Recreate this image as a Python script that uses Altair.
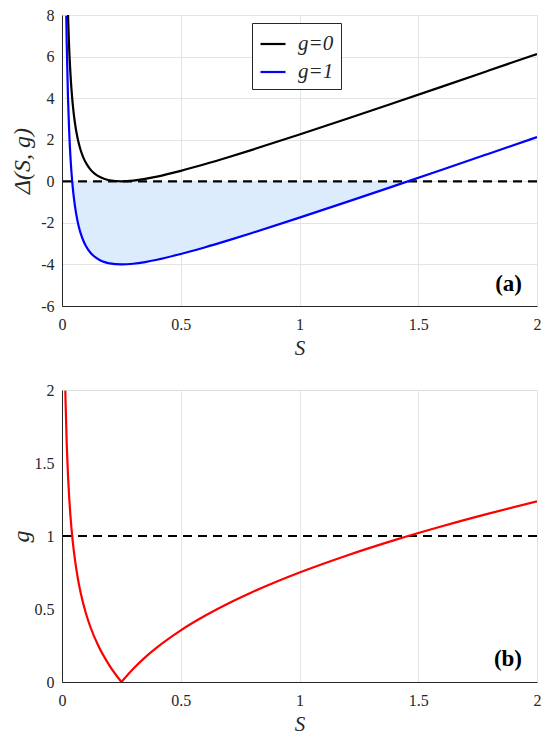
import altair as alt
import pandas as pd

# --- data ---
S_top = [0.018, 0.02, 0.025, 0.03, 0.035, 0.04, 0.045, 0.05, 0.06, 0.07, 0.08, 0.09,
         0.1, 0.12, 0.14, 0.16, 0.18, 0.2, 0.25, 0.3, 0.35, 0.4, 0.5, 0.6, 0.7, 0.8,
         1.0, 1.2, 1.4, 1.6, 1.8, 2.0]
delta_g0 = [11.96, 10.58, 8.1, 6.453, 5.283, 4.41, 3.736, 3.2, 2.407, 1.851, 1.445, 1.138,
            0.9, 0.563, 0.346, 0.2025, 0.109, 0.05, 0.0, 0.033, 0.114, 0.225, 0.5, 0.817, 1.157, 1.5125,
            2.25, 3.008, 3.779, 4.556, 5.339, 6.125]
delta_g1 = [7.96, 6.58, 4.1, 2.453, 1.283, 0.41, -0.264, -0.8, -1.593, -2.149, -2.555, -2.862,
            -3.1, -3.437, -3.654, -3.7975, -3.891, -3.95, -4.0, -3.967, -3.886, -3.775, -3.5, -3.183, -2.843, -2.4875,
            -1.75, -0.992, -0.221, 0.556, 1.339, 2.125]

S_fill = [0.0429, 0.045, 0.05, 0.06, 0.07, 0.08, 0.09, 0.1, 0.12, 0.14, 0.16, 0.18, 0.2, 0.25,
          0.3, 0.35, 0.4, 0.5, 0.6, 0.7, 0.8, 1.0, 1.2, 1.4, 1.457]
delta_fill = [0.0, -0.264, -0.8, -1.593, -2.149, -2.555, -2.862, -3.1, -3.437, -3.654, -3.7975, -3.891, -3.95, -4.0,
              -3.967, -3.886, -3.775, -3.5, -3.183, -2.843, -2.4875, -1.75, -0.992, -0.221, 0.0]

S_left = [0.014, 0.015, 0.02, 0.025, 0.03, 0.035, 0.04, 0.05, 0.06, 0.07, 0.08, 0.1, 0.12, 0.15, 0.2, 0.25]
g_left = [1.995, 1.919, 1.626, 1.423, 1.270, 1.149, 1.05, 0.894, 0.776, 0.680, 0.601, 0.474, 0.375, 0.258, 0.112, 0.0]
S_right = [0.25, 0.3, 0.35, 0.4, 0.5, 0.6, 0.7, 0.8, 1.0, 1.2, 1.4, 1.6, 1.8, 2.0]
g_right = [0.0, 0.0913, 0.169, 0.237, 0.354, 0.452, 0.538, 0.615, 0.75, 0.867, 0.972, 1.067, 1.155, 1.237]

x_ticks = [0, 0.5, 1, 1.5, 2]
top_ticks = [-6, -4, -2, 0, 2, 4, 6, 8]
bot_ticks = [0, 0.5, 1, 1.5, 2]

FONT = "Liberation Serif"
AX = "#262626"
GRID = "#e4e4e4"
W, H = 475, 291

top_df = pd.DataFrame({
    "S": S_top * 2,
    "D": delta_g0 + delta_g1,
    "series": ["g=0"] * len(S_top) + ["g=1"] * len(S_top),
})
fill_df = pd.DataFrame({"S": S_fill, "D": delta_fill, "zero": [0.0] * len(S_fill)})
bot_df = pd.DataFrame({
    "S": S_left + S_right,
    "g": g_left + g_right,
    "branch": ["L"] * len(S_left) + ["R"] * len(S_right),
})


def xaxis():
    return alt.Axis(values=x_ticks, title="S", titleFontStyle="italic", titleFontSize=21,
                    titleFont=FONT, titleFontWeight="normal", titleColor=AX, titlePadding=5,
                    labelFont=FONT, labelFontSize=16, labelColor=AX, labelPadding=10,
                    tickSize=0, domainColor=AX, gridColor=GRID, labelFlush=False,
                    labelExpr="toString(datum.value)")


def yaxis(values, title, tpad):
    return alt.Axis(values=values, title=title, titleFontStyle="italic", titleFontSize=24,
                    titleFont=FONT, titleFontWeight="normal", titleColor=AX, titlePadding=tpad,
                    labelFont=FONT, labelFontSize=16, labelColor=AX, labelPadding=8,
                    tickSize=0, domainColor=AX, gridColor=GRID,
                    labelExpr="toString(datum.value)")


xs = alt.Scale(domain=[0, 2], nice=False, zero=False)

area = alt.Chart(fill_df).mark_area(color="#dcecfc", opacity=1, interpolate="monotone").encode(
    x=alt.X("S:Q", scale=xs, axis=xaxis()),
    y=alt.Y("D:Q"),
    y2="zero:Q",
)

zero_rule = alt.Chart().mark_rule(color="black", strokeDash=[9, 6], strokeWidth=2.2).encode(
    y=alt.datum(0)
)

lines_top = alt.Chart(top_df).mark_line(strokeWidth=2.2, clip=True, interpolate="monotone").encode(
    x=alt.X("S:Q", scale=xs, axis=xaxis()),
    y=alt.Y("D:Q", scale=alt.Scale(domain=[-6, 8], nice=False),
            axis=yaxis(top_ticks, "Δ(S, g)", 6)),
    color=alt.Color("series:N", scale=alt.Scale(domain=["g=0", "g=1"], range=["black", "#0000ff"]),
                    legend=alt.Legend(title=None, orient="none", legendX=190, legendY=8,
                                      labelFont=FONT, labelFontSize=21, labelFontStyle="italic",
                                      labelColor=AX, symbolType="stroke", symbolSize=625,
                                      symbolStrokeWidth=2.2, strokeColor=AX, fillColor="white",
                                      padding=7, rowPadding=4, labelOffset=11)),
)

label_a = alt.Chart().mark_text(text="(a)", font=FONT, fontSize=23, fontWeight="bold",
                                align="right", baseline="alphabetic", color="black").encode(
    x=alt.value(W - 15), y=alt.value(H - 15)
)

top = alt.layer(area, zero_rule, lines_top, label_a).properties(width=W, height=H)

one_rule = alt.Chart().mark_rule(color="black", strokeDash=[9, 6], strokeWidth=2.2).encode(
    y=alt.datum(1)
)

red = alt.Chart(bot_df).mark_line(color="#ff0000", strokeWidth=2.2, clip=True, interpolate="monotone").encode(
    x=alt.X("S:Q", scale=xs, axis=xaxis()),
    y=alt.Y("g:Q", scale=alt.Scale(domain=[0, 2], nice=False),
            axis=yaxis(bot_ticks, "g", 1)),
    detail="branch:N",
)

label_b = alt.Chart().mark_text(text="(b)", font=FONT, fontSize=23, fontWeight="bold",
                                align="right", baseline="alphabetic", color="black").encode(
    x=alt.value(W - 15), y=alt.value(H - 15)
)

bottom = alt.layer(one_rule, red, label_b).properties(width=W, height=H + 1)

chart = alt.vconcat(top, bottom, spacing=22).configure_view(
    stroke=AX, strokeWidth=1.2
).configure(background="white").properties(
    padding={"left": 0, "top": -2, "right": 0, "bottom": 0})

chart.save("out.html", embed_options={"renderer": "svg", "actions": False})
